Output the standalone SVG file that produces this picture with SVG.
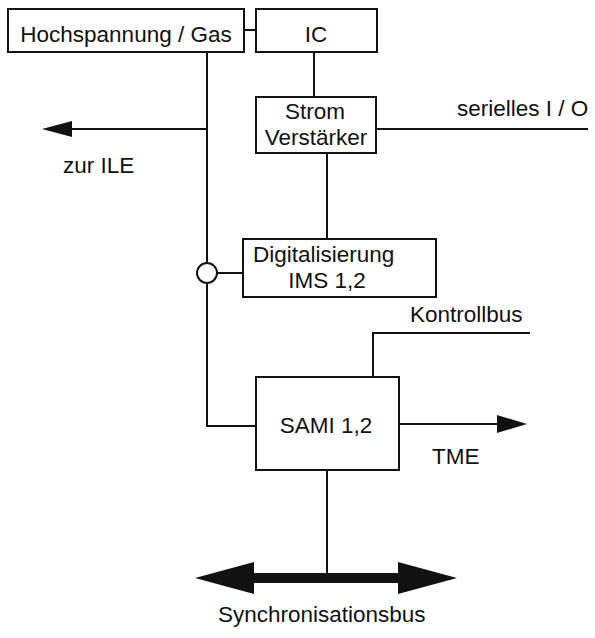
<svg xmlns="http://www.w3.org/2000/svg" width="595" height="638" viewBox="0 0 595 638">
  <style>
    .box { fill: #fff; stroke: #111; stroke-width: 2; }
    .wire { fill: none; stroke: #111; stroke-width: 2; }
    .head { fill: #111; stroke: none; }
    text { font-family: "Liberation Sans", Arial, sans-serif; font-size: 22.5px; fill: #111; }
    .c { text-anchor: middle; }
  </style>
  <rect width="595" height="638" fill="#fff"/>

  <!-- connectors -->
  <g id="connectors">
    <!-- Hochspannung - IC -->
    <line class="wire" x1="244" y1="30" x2="256" y2="30"/>
    <!-- IC - Strom Verstaerker -->
    <line class="wire" x1="314" y1="52" x2="314" y2="97"/>
    <!-- supply trunk with junction ring -->
    <line class="wire" x1="207" y1="52" x2="207" y2="263"/>
    <circle class="wire" cx="207" cy="273" r="10" fill="#fff"/>
    <polyline class="wire" points="207,283 207,426 256,426"/>
    <line class="wire" x1="217" y1="273" x2="243" y2="273"/>
    <!-- to ILE -->
    <line class="wire" x1="207" y1="129" x2="68" y2="129"/>
    <polygon class="head" points="42,129 72,121 72,137"/>
    <!-- serial I/O -->
    <line class="wire" x1="376" y1="129" x2="588" y2="129"/>
    <!-- Strom Verstaerker - Digitalisierung -->
    <line class="wire" x1="327" y1="153" x2="327" y2="239"/>
    <!-- Kontrollbus -->
    <polyline class="wire" points="530,333 373,333 373,377"/>
    <!-- TME -->
    <line class="wire" x1="399" y1="424" x2="500" y2="424"/>
    <polygon class="head" points="527,424 497,415 497,433"/>
    <!-- SAMI - Synchronisationsbus -->
    <line class="wire" x1="327" y1="470" x2="327" y2="575"/>
    <polygon class="head" points="195,578 254,562 254,573 398,573 398,562 457,578 398,594 398,583 254,583 254,594"/>
  </g>

  <g id="hochspannung">
    <rect class="box" x="8" y="9" width="236" height="43"/>
    <text class="c" x="126" y="42">Hochspannung / Gas</text>
  </g>

  <g id="ic">
    <rect class="box" x="256" y="9" width="121" height="43"/>
    <text class="c" x="316" y="42">IC</text>
  </g>

  <g id="stromverstaerker">
    <rect class="box" x="256" y="97" width="120" height="56"/>
    <text class="c" x="315" y="119">Strom</text>
    <text class="c" x="316" y="145">Verstärker</text>
  </g>

  <g id="digitalisierung">
    <rect class="box" x="243" y="239" width="193" height="58"/>
    <text x="253" y="262">Digitalisierung</text>
    <text class="c" x="327" y="288">IMS 1,2</text>
  </g>

  <g id="sami">
    <rect class="box" x="256" y="377" width="143" height="93"/>
    <text class="c" x="326" y="433">SAMI 1,2</text>
  </g>

  <g id="labels">
    <text x="63" y="173">zur ILE</text>
    <text x="457" y="116">serielles I / O</text>
    <text x="410" y="322">Kontrollbus</text>
    <text x="432" y="464">TME</text>
    <text x="218" y="622">Synchronisationsbus</text>
  </g>
</svg>
